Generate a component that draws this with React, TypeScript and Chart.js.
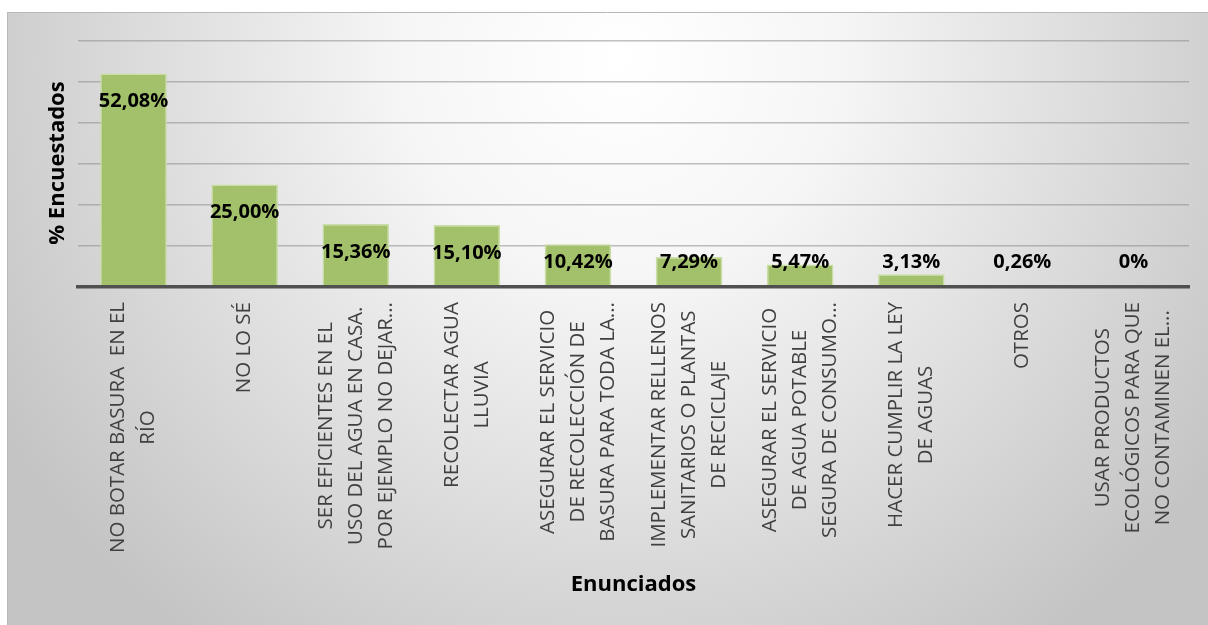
import React, { useEffect, useRef } from "react";
import { Chart, registerables } from "chart.js";

Chart.register(...registerables);

const categories: string[][] = [
  ["NO BOTAR BASURA  EN EL", "RÍO"],
  ["NO LO SÉ"],
  ["SER EFICIENTES EN EL", "USO DEL AGUA EN CASA.", "POR EJEMPLO NO DEJAR..."],
  ["RECOLECTAR AGUA", "LLUVIA"],
  ["ASEGURAR EL SERVICIO", "DE RECOLECCIÓN DE", "BASURA PARA TODA LA..."],
  ["IMPLEMENTAR RELLENOS", "SANITARIOS O PLANTAS", "DE RECICLAJE"],
  ["ASEGURAR EL SERVICIO", "DE AGUA POTABLE", "SEGURA DE CONSUMO..."],
  ["HACER CUMPLIR LA LEY", "DE AGUAS"],
  ["OTROS"],
  ["USAR PRODUCTOS", "ECOLÓGICOS PARA QUE", "NO CONTAMINEN EL..."],
];

const percentages: number[] = [52.08, 25.0, 15.36, 15.1, 10.42, 7.29, 5.47, 3.13, 0.26, 0];
const valueLabels: string[] = ["52,08%", "25,00%", "15,36%", "15,10%", "10,42%", "7,29%", "5,47%", "3,13%", "0,26%", "0%"];

const yAxisTitle = "% Encuestados";
const xAxisTitle = "Enunciados";

const W = 1208;
const H = 625;
const FONT = "'Open Sans', 'DejaVu Sans', sans-serif";

const backgroundPlugin = {
  id: "panelBg",
  beforeDraw(chart: any) {
    const ctx = chart.ctx as CanvasRenderingContext2D;
    ctx.save();
    ctx.fillStyle = "#ffffff";
    ctx.fillRect(0, 0, W, H);
    const g = ctx.createRadialGradient(620, 60, 0, 620, 60, 720);
    g.addColorStop(0, "#ffffff");
    g.addColorStop(0.3, "#f6f6f6");
    g.addColorStop(1, "#c4c4c4");
    ctx.fillStyle = g;
    ctx.fillRect(7, 12, W - 7, H - 12);
    ctx.strokeStyle = "#b8b8b8";
    ctx.lineWidth = 1;
    ctx.beginPath();
    ctx.moveTo(7, 12.5);
    ctx.lineTo(W, 12.5);
    ctx.moveTo(7.5, 12);
    ctx.lineTo(7.5, H);
    ctx.stroke();
    ctx.restore();
  },
};

const labelsPlugin = {
  id: "customLabels",
  afterDraw(chart: any) {
    const ctx = chart.ctx as CanvasRenderingContext2D;
    const xScale = chart.scales.x;
    const area = chart.chartArea;
    const meta = chart.getDatasetMeta(0);
    ctx.save();

    // value labels
    ctx.font = `bold 20px ${FONT}`;
    ctx.fillStyle = "#000000";
    ctx.textAlign = "center";
    ctx.textBaseline = "middle";
    meta.data.forEach((bar: any, i: number) => {
      const y = Math.min(bar.y + 28, area.bottom - 25);
      ctx.fillText(valueLabels[i], bar.x, y);
    });

    // category labels (rotated, centered lines)
    ctx.font = `20.5px ${FONT}`;
    ctx.fillStyle = "#404040";
    const lh = 30;
    categories.forEach((lines, i) => {
      const cx = xScale.getPixelForValue(i);
      const maxW = Math.max(...lines.map((l) => ctx.measureText(l).width));
      ctx.save();
      ctx.translate(cx, area.bottom + 15 + maxW / 2);
      ctx.rotate(-Math.PI / 2);
      ctx.textAlign = "center";
      ctx.textBaseline = "middle";
      lines.forEach((line, k) => {
        ctx.fillText(line, 0, (k - (lines.length - 1) / 2) * lh);
      });
      ctx.restore();
    });

    // axis titles
    ctx.font = `bold 22px ${FONT}`;
    ctx.fillStyle = "#000000";
    ctx.textAlign = "center";
    ctx.textBaseline = "middle";
    ctx.fillText(xAxisTitle, (area.left + area.right) / 2, 585);
    ctx.save();
    ctx.translate(58, 163);
    ctx.rotate(-Math.PI / 2);
    ctx.fillText(yAxisTitle, 0, 0);
    ctx.restore();

    ctx.restore();
  },
};

export default function App() {
  const ref = useRef<HTMLCanvasElement | null>(null);

  useEffect(() => {
    if (!ref.current) return;
    const chart = new Chart(ref.current, {
      type: "bar",
      data: {
        labels: categories.map((c) => c.join(" ")),
        datasets: [
          {
            data: percentages,
            backgroundColor: "#a3c16b",
            borderColor: "#c9dda5",
            borderWidth: 1.5,
            barPercentage: 0.6,
            categoryPercentage: 1,
          },
        ],
      },
      options: {
        responsive: false,
        animation: false,
        layout: { padding: { left: 78, right: W - 1189, top: 41, bottom: H - 287 } },
        plugins: { legend: { display: false }, tooltip: { enabled: false } },
        scales: {
          x: {
            ticks: { display: false },
            grid: { display: false, drawTicks: false },
            border: { display: true, color: "#505050", width: 3.5, z: 1 },
          },
          y: {
            min: 0,
            max: 60,
            ticks: { display: false, stepSize: 10 },
            grid: { color: "rgba(140,140,140,0.55)", lineWidth: 1.5, drawTicks: false },
            border: { display: false },
          },
        },
      },
      plugins: [backgroundPlugin, labelsPlugin],
    });
    return () => chart.destroy();
  }, []);

  return (
    <div style={{ position: "fixed", left: 0, top: 0, width: W, height: H }}>
      <canvas ref={ref} width={W} height={H} style={{ display: "block" }} />
    </div>
  );
}
